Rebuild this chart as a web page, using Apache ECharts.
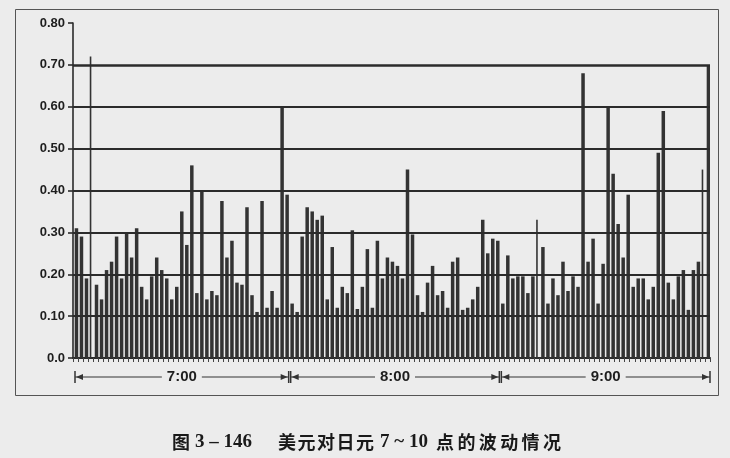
<!DOCTYPE html>
<html><head><meta charset="utf-8">
<script src="https://cdn.jsdelivr.net/npm/echarts@6/dist/echarts.min.js"></script>
<style>html,body{margin:0;padding:0;background:#ececec}#c{width:730px;height:458px}</style>
</head><body><div id="c"></div>
<script>
// Bar values, grouped by hour (7:00, 8:00, 9:00)
const hour7 = [0.31,0.29,0.19,0.72,0.175,0.14,0.21,0.23,0.29,0.19,
               0.30,0.24,0.31,0.17,0.14,0.195,0.24,0.21,0.19,0.14,
               0.17,0.35,0.27,0.46,0.155,0.40,0.14,0.16,0.15,0.375,
               0.24,0.28,0.18,0.175,0.36,0.15,0.11,0.375,0.12,0.16,
               0.12,0.60,0.39];
const hour8 = [0.13,0.11,0.29,0.36,0.35,0.33,0.34,0.14,0.265,0.12,
               0.17,0.155,0.305,0.117,0.17,0.26,0.12,0.28,0.19,0.24,
               0.23,0.22,0.19,0.45,0.295,0.15,0.11,0.18,0.22,0.15,
               0.16,0.12,0.23,0.24,0.115,0.12,0.14,0.17,0.33,0.25,
               0.285,0.28];
const hour9 = [0.13,0.245,0.19,0.195,0.195,0.155,0.195,0.33,0.265,0.13,
               0.19,0.15,0.23,0.16,0.195,0.17,0.68,0.23,0.285,0.13,
               0.225,0.60,0.44,0.32,0.24,0.39,0.17,0.19,0.19,0.14,
               0.17,0.49,0.59,0.18,0.14,0.195,0.21,0.115,0.21,0.23,
               0.45,0.70];
// positions (within each hour) of the hairline-thin bars
const thin7 = [3];
const thin8 = [];
const thin9 = [7, 40];
const hourLabels = ['7:00', '8:00', '9:00'];
const gridValues = [0.1, 0.2, 0.3, 0.4, 0.5, 0.6, 0.7];
const captionChunks = [
  {t: '图', x: 172, serif: false, pitch: 0},
  {t: '3 – 146', x: 195, serif: true, pitch: 0},
  {t: '美元对日元', x: 278, serif: false, pitch: 19.5},
  {t: '7 ~ 10', x: 380, serif: true, pitch: 0},
  {t: '点的波动情况', x: 436, serif: false, pitch: 21.4}
];

const hours = [hour7, hour8, hour9];
const thins = [thin7, thin8, thin9];
const categories = [];
const wide = [], thin = [];
const hourRanges = [];
hours.forEach((arr, h) => {
  const start = categories.length;
  arr.forEach((v, j) => {
    categories.push(hourLabels[h] + '#' + (j + 1));
    if (thins[h].indexOf(j) >= 0) { wide.push('-'); thin.push(v); }
    else { wide.push(v); thin.push('-'); }
  });
  hourRanges.push([start, categories.length - 1]);
});

const BG = '#ececec';
const INK = '#2b2b2b';
const BAR = '#333333';
const chart = echarts.init(document.getElementById('c'));
chart.setOption({
  backgroundColor: BG,
  animation: false,
  grid: {left: 73, right: 20, top: 23, bottom: 100},
  xAxis: {
    type: 'category', data: categories, boundaryGap: true,
    axisLine: {show: true, onZero: false, lineStyle: {color: INK, width: 2}},
    axisTick: {show: true, interval: 0, length: 4, lineStyle: {color: '#444', width: 1}},
    axisLabel: {show: false}, splitLine: {show: false}
  },
  yAxis: {
    type: 'value', min: 0, max: 0.8, interval: 0.1,
    axisLine: {show: true, lineStyle: {color: INK, width: 1.6}},
    axisTick: {show: true, length: 5, lineStyle: {color: INK, width: 1.6}},
    axisLabel: {margin: 8, color: '#1e1e1e', fontSize: 13, fontWeight: 'bold',
      fontFamily: 'Liberation Sans, Arial, sans-serif',
      formatter: v => v === 0 ? '0.0' : v.toFixed(2)},
    splitLine: {show: false}
  },
  series: [
    {type: 'bar', data: wide, barWidth: 3.5, itemStyle: {color: BAR},
     markLine: {silent: true, symbol: ['none', 'none'], label: {show: false}, animation: false,
       lineStyle: {color: INK, width: 1.8, type: 'solid'},
       data: gridValues.map(v => ({yAxis: v, lineStyle: {color: INK, type: 'solid', width: v > 0.65 ? 2.6 : 1.8}}))}},
    {type: 'bar', data: thin, barWidth: 1.6, barGap: '-100%', itemStyle: {color: BAR}}
  ]
});

// decorations: frame, hour brackets, caption
const g = [];
g.push({type: 'rect', shape: {x: 15.5, y: 9.5, width: 703, height: 386},
  style: {fill: 'none', stroke: '#555', lineWidth: 1}, z: 0});
const p0 = chart.convertToPixel({xAxisIndex: 0}, categories[0]);
const p1 = chart.convertToPixel({xAxisIndex: 0}, categories[1]);
const band = p1 - p0;
const yB = 377;
hourRanges.forEach((r, h) => {
  const xa = chart.convertToPixel({xAxisIndex: 0}, categories[r[0]]) - band / 2 + 2;
  const xb = chart.convertToPixel({xAxisIndex: 0}, categories[r[1]]) + band / 2;
  const mid = (xa + xb) / 2;
  const half = 20;
  const ls = {stroke: '#333', lineWidth: 1.2};
  g.push({type: 'line', shape: {x1: xa, y1: yB, x2: mid - half, y2: yB}, style: ls});
  g.push({type: 'line', shape: {x1: mid + half, y1: yB, x2: xb, y2: yB}, style: ls});
  g.push({type: 'line', shape: {x1: xa, y1: yB - 6, x2: xa, y2: yB + 6}, style: {stroke: '#333', lineWidth: 1.5}});
  g.push({type: 'line', shape: {x1: xb, y1: yB - 6, x2: xb, y2: yB + 6}, style: {stroke: '#333', lineWidth: 1.5}});
  g.push({type: 'polygon', shape: {points: [[xa + 1, yB], [xa + 8, yB - 3], [xa + 8, yB + 3]]}, style: {fill: '#333'}});
  g.push({type: 'polygon', shape: {points: [[xb - 1, yB], [xb - 8, yB - 3], [xb - 8, yB + 3]]}, style: {fill: '#333'}});
  g.push({type: 'text', x: mid, y: yB, style: {text: hourLabels[h], fill: '#1e1e1e',
    font: 'bold 15px "Liberation Sans", Arial, sans-serif', align: 'center', verticalAlign: 'middle'}});
});
captionChunks.forEach(c => {
  const font = c.serif ? 'bold 19px "Liberation Serif", serif' : 'bold 18px "Noto Sans CJK SC", sans-serif';
  if (c.pitch > 0) {
    Array.from(c.t).forEach((ch, k) => {
      g.push({type: 'text', x: c.x + k * c.pitch, y: 442, style: {text: ch, fill: '#1a1a1a',
        font: font, align: 'left', verticalAlign: 'middle'}});
    });
  } else {
    g.push({type: 'text', x: c.x, y: 442, style: {text: c.t, fill: '#1a1a1a',
      font: font, align: 'left', verticalAlign: 'middle'}});
  }
});
chart.setOption({graphic: g});
</script>
</body></html>
